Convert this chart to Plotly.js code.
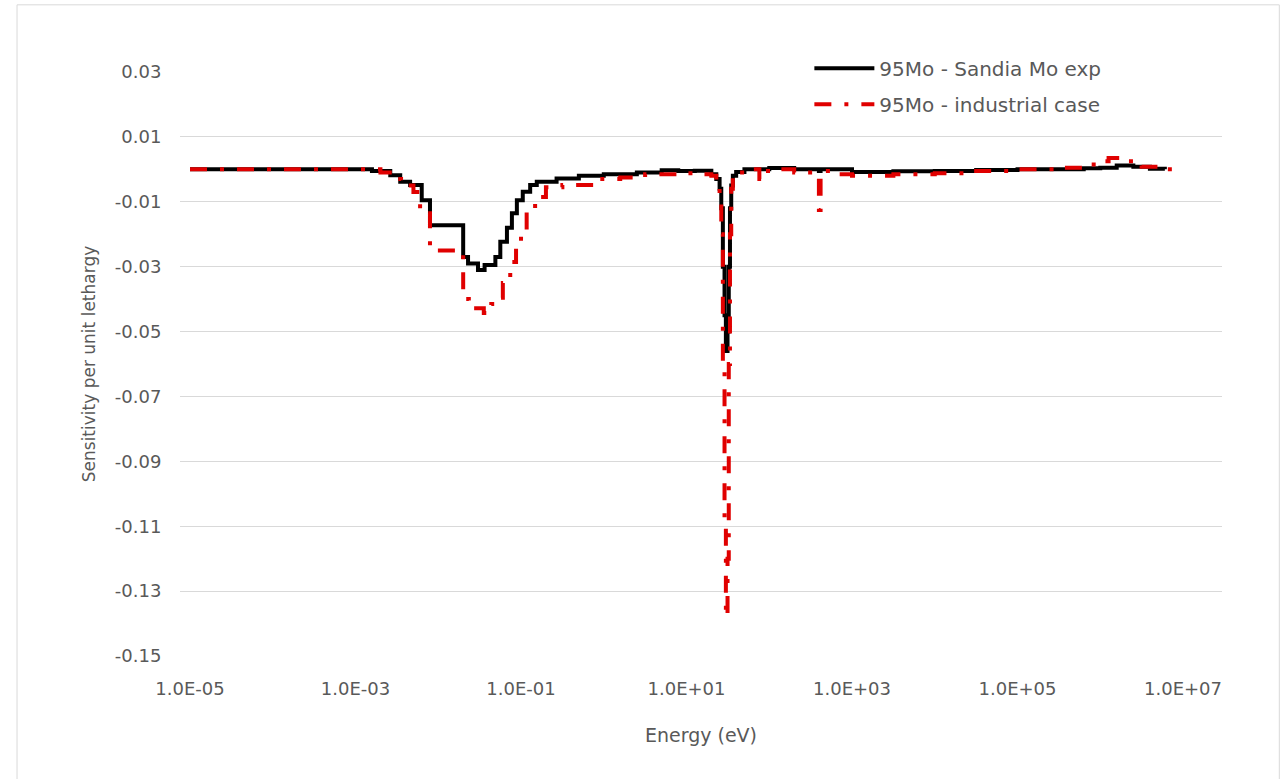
<!DOCTYPE html>
<html>
<head>
<meta charset="utf-8">
<script src="https://cdn.plot.ly/plotly-3.0.1.min.js"></script>
<style>
html,body{margin:0;padding:0;background:#fff;}
#chart{width:1283px;height:779px;}
</style>
</head>
<body>
<div id="chart"></div>
<script>
// Energy grid (eV) and sensitivities
const energySandia = [1e-5, 1e-3, 1.58e-3, 2.63e-3, 3.47e-3, 4.57e-3, 6.31e-3, 7.94e-3, 0.02, 0.0229, 0.0302, 0.0363, 0.049, 0.0562, 0.0676, 0.0776, 0.0891, 0.105, 0.129, 0.155, 0.269, 0.5, 1, 2.51, 5.01, 7.94, 12.6, 19.95, 22.9, 25.1, 26.3, 27.5, 28.8, 29.9, 31.3, 32.4, 33.5, 34.7, 36.3, 39.8, 50.1, 100, 200, 398, 417, 1000, 3162, 1e4, 31623, 1e5, 3.16e5, 6.31e5, 1e6, 1.58e6, 2.51e6, 3.98e6, 6.03e6];
const sensSandia = [0, 0, -0.0005, -0.0018, -0.0038, -0.0048, -0.0095, -0.0172, -0.027, -0.029, -0.031, -0.0295, -0.027, -0.0223, -0.018, -0.0135, -0.0095, -0.0069, -0.0048, -0.0038, -0.0028, -0.002, -0.0015, -0.001, -0.0003, -0.0005, -0.0004, -0.0015, -0.003, -0.006, -0.012, -0.03, -0.045, -0.056, -0.05, -0.03, -0.012, -0.005, -0.002, -0.0008, 0, 0.0004, 0, -0.0005, 0, -0.0008, -0.0006, -0.0005, -0.0002, 0, 0, 0.0003, 0.0005, 0.0012, 0.0008, 0.0002, 0];

const energyIndustrial = [1e-5, 1e-3, 2.0e-3, 2.82e-3, 3.55e-3, 5.01e-3, 6.03e-3, 7.94e-3, 0.02, 0.0234, 0.0355, 0.0437, 0.0501, 0.0603, 0.0741, 0.0871, 0.1, 0.117, 0.148, 0.2, 0.316, 0.794, 1.58, 3.16, 7.94, 15.8, 19.95, 22.9, 25.1, 26.3, 27.5, 28.8, 29.9, 31.3, 32.4, 33.5, 34.7, 36.3, 39.8, 50.1, 75.9, 91.2, 126, 200, 398, 417, 631, 1000, 3162, 1e4, 31623, 1e5, 3.16e5, 6.31e5, 1e6, 1.26e6, 1.78e6, 3.16e6, 6.31e6, 1e7];
const sensIndustrial = [0, 0, -0.001, -0.003, -0.005, -0.007, -0.0135, -0.025, -0.040, -0.0428, -0.0443, -0.0415, -0.0396, -0.035, -0.0286, -0.0224, -0.0187, -0.0125, -0.0085, -0.0055, -0.0048, -0.003, -0.0025, -0.0015, -0.0012, -0.0015, -0.002, -0.004, -0.008, -0.02, -0.06, -0.11, -0.138, -0.12, -0.06, -0.02, -0.006, -0.002, -0.001, 0, -0.003, -0.0005, 0, -0.001, -0.0125, -0.0005, -0.0015, -0.002, -0.0015, -0.0012, -0.0005, 0, 0.0005, 0.0015, 0.0025, 0.0035, 0.0025, 0.0008, 0, 0];

const seriesNames = ["95Mo - Sandia Mo exp", "95Mo - industrial case"];
const xTickVals = [1e-5, 1e-3, 1e-1, 1e1, 1e3, 1e5, 1e7];
const xTickText = ["1.0E-05", "1.0E-03", "1.0E-01", "1.0E+01", "1.0E+03", "1.0E+05", "1.0E+07"];
const yTickVals = [0.03, 0.01, -0.01, -0.03, -0.05, -0.07, -0.09, -0.11, -0.13, -0.15];
const yTickText = ["0.03", "0.01", "-0.01", "-0.03", "-0.05", "-0.07", "-0.09", "-0.11", "-0.13", "-0.15"];

const font = "'DejaVu Sans', sans-serif";
const grey = "#595959";

const traces = [
  {
    x: energySandia, y: sensSandia, type: "scatter", mode: "lines",
    name: seriesNames[0], legendgroup: "a",
    line: {color: "#000000", width: 4, shape: "hv"}
  },
  {
    x: energyIndustrial, y: sensIndustrial, type: "scatter", mode: "lines",
    name: seriesNames[1], legendgroup: "b",
    line: {color: "#e00000", width: 4, shape: "hv", dash: "17px,13px,4px,13px"}
  }
];

const layout = {
  width: 1283, height: 779,
  margin: {l: 180, r: 61, t: 72, b: 123},
  paper_bgcolor: "#ffffff", plot_bgcolor: "#ffffff",
  font: {family: font, size: 18, color: grey},
  showlegend: true,
  legend: {
    x: 0.604, y: 1.04, xanchor: "left", yanchor: "top",
    bgcolor: "rgba(0,0,0,0)", font: {family: font, size: 20, color: grey},
    itemwidth: 60, tracegroupgap: 7, traceorder: "grouped"
  },
  xaxis: {
    type: "log", range: [-5.121, 7.471],
    tickmode: "array", tickvals: xTickVals, ticktext: xTickText,
    showgrid: false, zeroline: false, showline: false,
    ticks: "outside", ticklen: 16, tickcolor: "rgba(0,0,0,0)",
    tickfont: {family: font, size: 18, color: grey},
    title: {text: "Energy (eV)", font: {family: font, size: 19, color: grey}, standoff: 31}
  },
  yaxis: {
    range: [-0.15, 0.03],
    tickmode: "array", tickvals: yTickVals, ticktext: yTickText,
    showgrid: true, gridcolor: "#d9d9d9", gridwidth: 1,
    zeroline: false, showline: false,
    ticks: "outside", ticklen: 14, tickcolor: "rgba(0,0,0,0)",
    tickfont: {family: font, size: 18, color: grey},
    title: {text: "Sensitivity per unit lethargy", font: {family: font, size: 17, color: grey}, standoff: 14}
  },
  shapes: [
    {type: "rect", xref: "paper", yref: "paper", x0: -0.1564, x1: 1.055, y0: -0.25, y1: 1.115,
     line: {color: "#d9d9d9", width: 1}, fillcolor: "rgba(0,0,0,0)", layer: "below"}
  ]
};

Plotly.newPlot("chart", traces, layout, {displayModeBar: false, staticPlot: true});
</script>
</body>
</html>
